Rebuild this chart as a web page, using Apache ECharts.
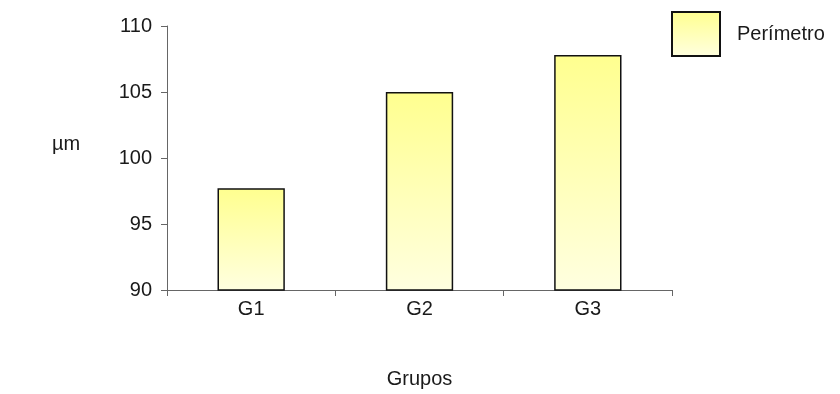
<!DOCTYPE html>
<html>
<head>
<meta charset="utf-8">
<script src="https://cdn.jsdelivr.net/npm/echarts@6/dist/echarts.min.js"></script>
<style>
  html, body { margin: 0; padding: 0; background: #ffffff; }
  #chart { width: 840px; height: 394px; }
</style>
</head>
<body>
<div id="chart"></div>
<script>
// Perimeter per group (µm)
const categories = ['G1', 'G2', 'G3'];
const perimetro = [97.7, 105.0, 107.8];
const seriesName = 'Perímetro';
const unitLabel = 'µm';
const yMin = 90, yMax = 110, yStep = 5;

const font = 'Liberation Sans, Arial, sans-serif';
const fontSize = 20;
const textColor = '#1a1a1a';
const barFill = new echarts.graphic.LinearGradient(0, 0, 0, 1, [
  { offset: 0, color: '#ffff8f' },
  { offset: 1, color: '#ffffe0' }
]);

const chart = echarts.init(document.getElementById('chart'), null, { renderer: 'canvas' });
chart.setOption({
  backgroundColor: '#ffffff',
  animation: false,
  grid: { left: 167, width: 505, top: 26, height: 264, containLabel: false },
  legend: {
    data: [{ name: seriesName, icon: 'rect' }],
    left: 671, top: 11,
    padding: 0,
    itemWidth: 48, itemHeight: 44,
    textStyle: { fontFamily: font, fontSize: fontSize, color: textColor, padding: [6, 0, 0, 12] }
  },
  // unit label to the left of the value axis
  graphic: [{
    type: 'text',
    left: 52, top: 134,
    style: { text: unitLabel, font: fontSize + 'px ' + font, fill: textColor }
  }],
  xAxis: {
    type: 'category',
    data: categories,
    name: 'Grupos',
    nameLocation: 'middle',
    nameGap: 79,
    nameTextStyle: { fontFamily: font, fontSize: fontSize, color: textColor },
    axisLine: { lineStyle: { color: '#666', width: 1 } },
    axisTick: { show: true, length: 6, lineStyle: { color: '#666' } },
    axisLabel: { fontFamily: font, fontSize: fontSize, color: textColor, margin: 9 }
  },
  yAxis: {
    type: 'value',
    min: yMin, max: yMax, interval: yStep,
    splitLine: { show: false },
    axisLine: { show: true, lineStyle: { color: '#666', width: 1 } },
    axisTick: { show: true, length: 6, lineStyle: { color: '#666' } },
    axisLabel: { fontFamily: font, fontSize: fontSize, color: textColor, margin: 15 }
  },
  series: [{
    name: seriesName,
    type: 'bar',
    data: perimetro,
    barWidth: '40%',
    itemStyle: { color: barFill, borderColor: '#111', borderWidth: 1.5 }
  }]
});
</script>
</body>
</html>
